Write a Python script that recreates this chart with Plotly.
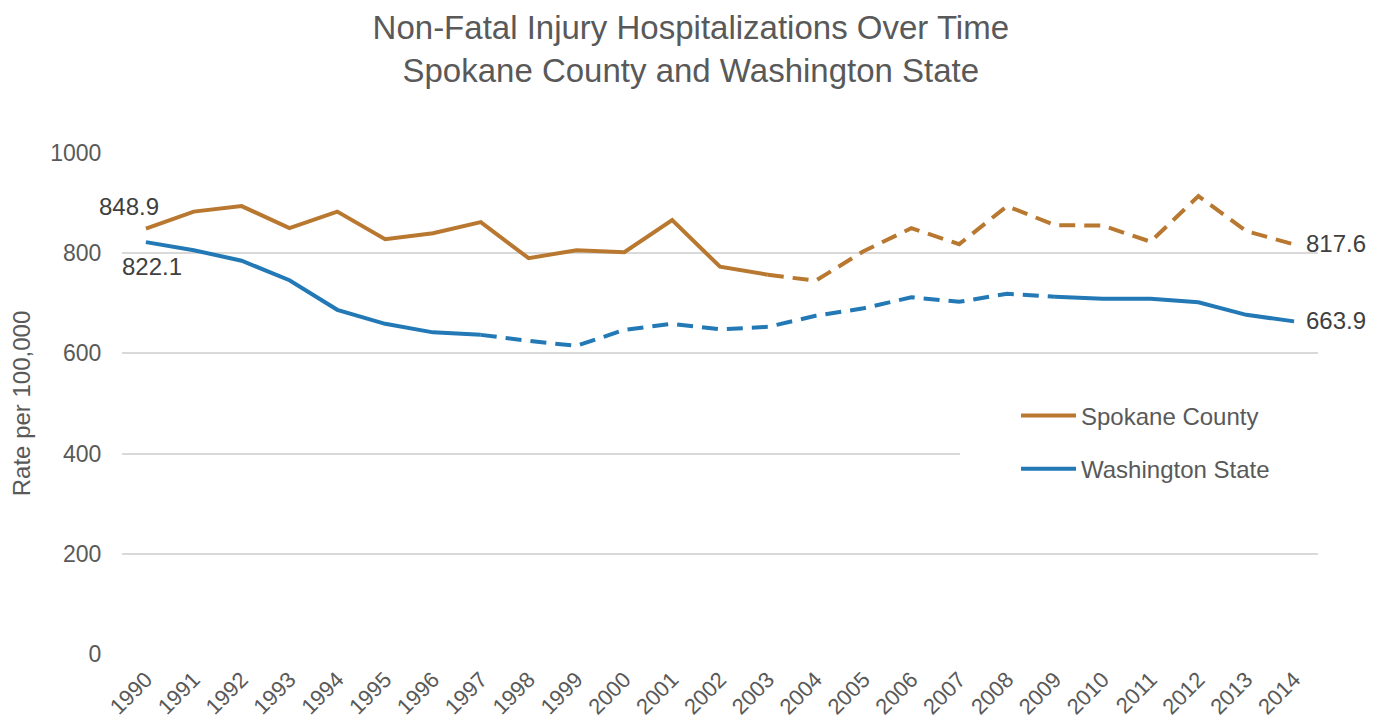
import plotly.graph_objects as go

# ---------------- data ----------------
years = list(range(1990, 2015))
spokane = [848.9, 883, 894, 850, 883, 828, 840, 862, 790, 806, 802, 866, 773, 757,
           745, 804, 850, 818, 894, 856, 855, 823, 914, 844, 817.6]
washington = [822.1, 806, 785, 746, 687, 659, 642, 637, 625, 615, 647, 659, 648, 653,
              675, 690, 712, 703, 719, 713, 709, 709, 702, 677, 663.9]
series_names = ["Spokane County", "Washington State"]
y_ticks = [0, 200, 400, 600, 800, 1000]
title_lines = ["Non-Fatal Injury Hospitalizations Over Time",
               "Spokane County and Washington State"]
y_title = "Rate per 100,000"

# ---------------- styling ----------------
ORANGE = "#B8782F"
BLUE = "#2279B5"
GRID = "#D9D9D9"
TXT = "#595959"
LBL = "#404040"
FONT = "Liberation Sans, Arial, sans-serif"
DASH = "16px,9px"

# segments: (start index, end index, dash)
segments = {
    "Spokane County": [(0, 13, "solid"), (13, 24, DASH)],
    "Washington State": [(0, 7, "solid"), (7, 19, DASH), (19, 24, "solid")],
}
values = {"Spokane County": spokane, "Washington State": washington}
colors = {"Spokane County": ORANGE, "Washington State": BLUE}

fig = go.Figure()
for gi, name in enumerate(series_names):
    vals = values[name]
    for si, (a, b, dash) in enumerate(segments[name]):
        fig.add_trace(go.Scatter(
            x=years[a:b + 1], y=vals[a:b + 1], mode="lines",
            line=dict(color=colors[name], width=4, dash=dash),
            name=name, legendgroup=name,
            showlegend=False, hoverinfo="skip"))
    # legend entry (solid line sample)
    fig.add_trace(go.Scatter(
        x=[None], y=[None], mode="lines",
        line=dict(color=colors[name], width=4),
        name=name, legendgroup=name, showlegend=True))

# data labels
annos = [
    dict(x=years[0], y=spokane[0], text=f"{spokane[0]:.1f}", xshift=-17, yshift=22),
    dict(x=years[0], y=washington[0], text=f"{washington[0]:.1f}", xshift=6, yshift=-24),
    dict(x=years[-1], y=spokane[-1], text=f"{spokane[-1]:.1f}", xanchor="left", xshift=10, yshift=1),
    dict(x=years[-1], y=washington[-1], text=f"{washington[-1]:.1f}", xanchor="left", xshift=10, yshift=1),
]
for a in annos:
    a.setdefault("xanchor", "center")
    a.update(xref="x", yref="y", showarrow=False, yanchor="middle",
             font=dict(family=FONT, size=24, color=LBL))
    fig.add_annotation(**a)

# white box behind legend covering part of the 400 gridline
fig.add_shape(type="rect", xref="paper", yref="y", x0=0.7007, x1=1.0,
              y0=385, y1=415, fillcolor="white", line=dict(width=0), layer="above")

fig.update_layout(
    width=1385, height=721,
    margin=dict(l=114, r=75, t=145, b=75, autoexpand=False),
    paper_bgcolor="white", plot_bgcolor="white",
    font=dict(family=FONT, size=24, color=TXT),
    title=dict(text="<br>".join(title_lines), x=0.493, xref="container",
               xanchor="center", y=0.957, yanchor="top",
               font=dict(family=FONT, size=33, color=TXT)),
    showlegend=True,
    legend=dict(x=0.7475, y=0.52, xanchor="left", yanchor="top",
                bgcolor="rgba(0,0,0,0)", borderwidth=0,
                font=dict(family=FONT, size=24, color=TXT),
                traceorder="grouped", tracegroupgap=19, itemwidth=55),
    xaxis=dict(range=[1989.5, 2014.5], tickmode="array", tickvals=years,
               ticktext=[str(y) for y in years], tickangle=-45,
               showgrid=False, zeroline=False, showline=False, automargin=False,
               ticks="outside", ticklen=3, tickcolor="rgba(0,0,0,0)",
               tickfont=dict(family=FONT, size=22, color=TXT)),
    yaxis=dict(range=[0, 1000], tickmode="array", tickvals=y_ticks,
               showgrid=True, gridcolor=GRID, gridwidth=2, zeroline=False,
               showline=False, ticks="outside", ticklen=15, automargin=False,
               tickcolor="rgba(0,0,0,0)",
               tickfont=dict(family=FONT, size=23, color=TXT),
               title=dict(text=y_title, standoff=12,
                          font=dict(family=FONT, size=24, color=TXT))),
)

fig.write_html("out.html")
